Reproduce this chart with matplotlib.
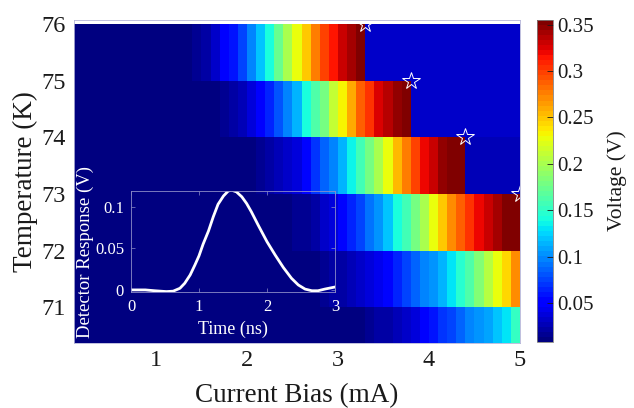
#!/usr/bin/env python3
"""Voltage map vs current bias and temperature, with detector pulse inset."""

import numpy as np
import matplotlib
matplotlib.use("Agg")
import matplotlib.pyplot as plt

plt.rcParams["font.family"] = ["Liberation Serif", "DejaVu Serif"]

# current grid edges (mA), one cell per 0.1 mA step
current_edges = np.round(np.arange(0.1, 5.0 + 1e-9, 0.1), 1)
temperatures = [71, 72, 73, 74, 75, 76]

# voltage (V) per current cell 0.1 .. 4.9, one list per temperature
volts_76 = ([0.010] * 12
            + [0.012, 0.016, 0.022, 0.034, 0.049, 0.062, 0.077, 0.100, 0.120, 0.143,
               0.176, 0.200, 0.225, 0.250, 0.278, 0.296, 0.312, 0.333, 0.344, 0.350]
            + [0.030] * 17)
volts_75 = ([0.011] * 16
            + [0.016, 0.021, 0.028, 0.038, 0.047, 0.065, 0.082, 0.097, 0.115, 0.140,
               0.160, 0.180, 0.210, 0.235, 0.262, 0.285, 0.305, 0.325, 0.335, 0.345,
               0.355]
            + [0.030] * 12)
volts_74 = ([0.011] * 20
            + [0.017, 0.022, 0.028, 0.033, 0.040, 0.055, 0.072, 0.086, 0.100, 0.113,
               0.133, 0.155, 0.178, 0.200, 0.225, 0.255, 0.277, 0.300, 0.318, 0.333,
               0.345, 0.352, 0.355]
            + [0.029] * 6)
volts_73 = ([0.011] * 24
            + [0.014, 0.018, 0.024, 0.030, 0.040, 0.052, 0.064, 0.077, 0.090, 0.105,
               0.120, 0.140, 0.155, 0.178, 0.200, 0.228, 0.250, 0.270, 0.285, 0.305,
               0.320, 0.330, 0.342, 0.350, 0.355])
volts_72 = ([0.011] * 26
            + [0.013, 0.015, 0.019, 0.022, 0.025, 0.031, 0.036, 0.043, 0.052, 0.064,
               0.077, 0.086, 0.096, 0.105, 0.115, 0.128, 0.146, 0.162, 0.182, 0.205,
               0.228, 0.245, 0.270])
volts_71 = ([0.011] * 31
            + [0.013, 0.016, 0.019, 0.023, 0.029, 0.034, 0.040, 0.050, 0.058, 0.068,
               0.077, 0.086, 0.095, 0.102, 0.110, 0.120, 0.130, 0.150])

# switching points marked with stars
switch_current = [3.3, 3.8, 4.4, 5.0]
switch_temp = [76, 75, 74, 73]

# detector pulse for the inset
pulse_time = [0.0, 0.21, 0.35, 0.52, 0.62, 0.72, 0.79, 0.87, 0.94, 1.0, 1.06, 1.14,
              1.21, 1.28, 1.36, 1.43, 1.48, 1.55, 1.63, 1.70, 1.77, 1.87, 2.0, 2.12,
              2.24, 2.36, 2.46, 2.56, 2.66, 2.75, 2.85, 3.0]
pulse_volt = [0.000, 0.000, -0.001, -0.002, -0.0015, 0.002, 0.008, 0.018, 0.030, 0.041,
              0.055, 0.071, 0.088, 0.103, 0.113, 0.119, 0.120, 0.118, 0.112, 0.104,
              0.094, 0.078, 0.058, 0.042, 0.027, 0.014, 0.006, 0.001, -0.001, -0.001,
              0.001, 0.0035]

W, H = 634, 408
fig = plt.figure(figsize=(W / 100, H / 100), dpi=100)
ax = fig.add_axes([74 / W, 1 - 343 / H, 446 / W, 323 / H])
cax = fig.add_axes([537 / W, 1 - 342 / H, 16 / W, 322 / H])

grid = np.array([volts_71, volts_72, volts_73, volts_74, volts_75, volts_76])
temp_edges = np.append(np.array(temperatures) - 1, temperatures[-1])
mesh = ax.pcolormesh(current_edges, temp_edges, grid, cmap=plt.get_cmap("jet", 64),
                     vmin=0.008, vmax=0.355, shading="flat")
ax.plot(switch_current, switch_temp, linestyle="none", marker="*", markersize=13,
        markerfacecolor="none", markeredgecolor="white", markeredgewidth=0.7)

ax.set_xlim(0.1, 5.0)
ax.set_ylim(70.37, 76.07)
ax.set_xticks([1, 2, 3, 4, 5])
ax.set_yticks(temperatures)
ax.tick_params(length=0, labelsize=17.5, colors="#1a1a1a")
ax.tick_params(axis="x", pad=5)
ax.tick_params(axis="y", pad=6)
ax.set_xlabel("Current Bias (mA)", fontsize=19.5, color="#1a1a1a", labelpad=9)
ax.set_ylabel("Temperature (K)", fontsize=19.5, color="#1a1a1a", labelpad=2)
for spine in ax.spines.values():
    spine.set_color("#b4b4d8")
    spine.set_linewidth(0.6)

cbar = fig.colorbar(mesh, cax=cax)
cbar.set_ticks([0.05, 0.1, 0.15, 0.2, 0.25, 0.3, 0.35])
cbar.set_ticklabels(["0.05", "0.1", "0.15", "0.2", "0.25", "0.3", "0.35"])
cbar.ax.tick_params(direction="in", length=4, width=0.6, labelsize=15, pad=3,
                    colors="#1a1a1a")
cbar.outline.set_edgecolor("#808080")
cbar.outline.set_linewidth(0.6)
cbar.set_label("Voltage (V)", fontsize=15.5, color="#1a1a1a", labelpad=10)

ins = fig.add_axes([131 / W, 1 - 292 / H, 204 / W, 101 / H])
ins.patch.set_alpha(0)
ins.plot(pulse_time, pulse_volt, color="white", linewidth=2)
ins.set_xlim(0, 3)
ins.set_ylim(-0.0025, 0.119)
ins.set_xticks([0, 1, 2, 3])
ins.set_yticks([0, 0.05, 0.1])
ins.set_yticklabels(["0", "0.05", "0.1"])
ins.tick_params(direction="in", length=3, width=0.5, labelsize=12, pad=5,
                colors="#8c8cc8", labelcolor="white", top=True, right=True)
ins.set_xlabel("Time (ns)", fontsize=13, color="white", labelpad=4)
for spine in ins.spines.values():
    spine.set_color("#8c8cc8")
    spine.set_linewidth(0.6)
# inset y label placed where the reference has it
fig.text(85 / W, 1 - 252 / H, "Detector Response (V)", rotation=90, fontsize=13.5,
         color="white", ha="center", va="center")

fig.savefig("out.png", dpi=100)
